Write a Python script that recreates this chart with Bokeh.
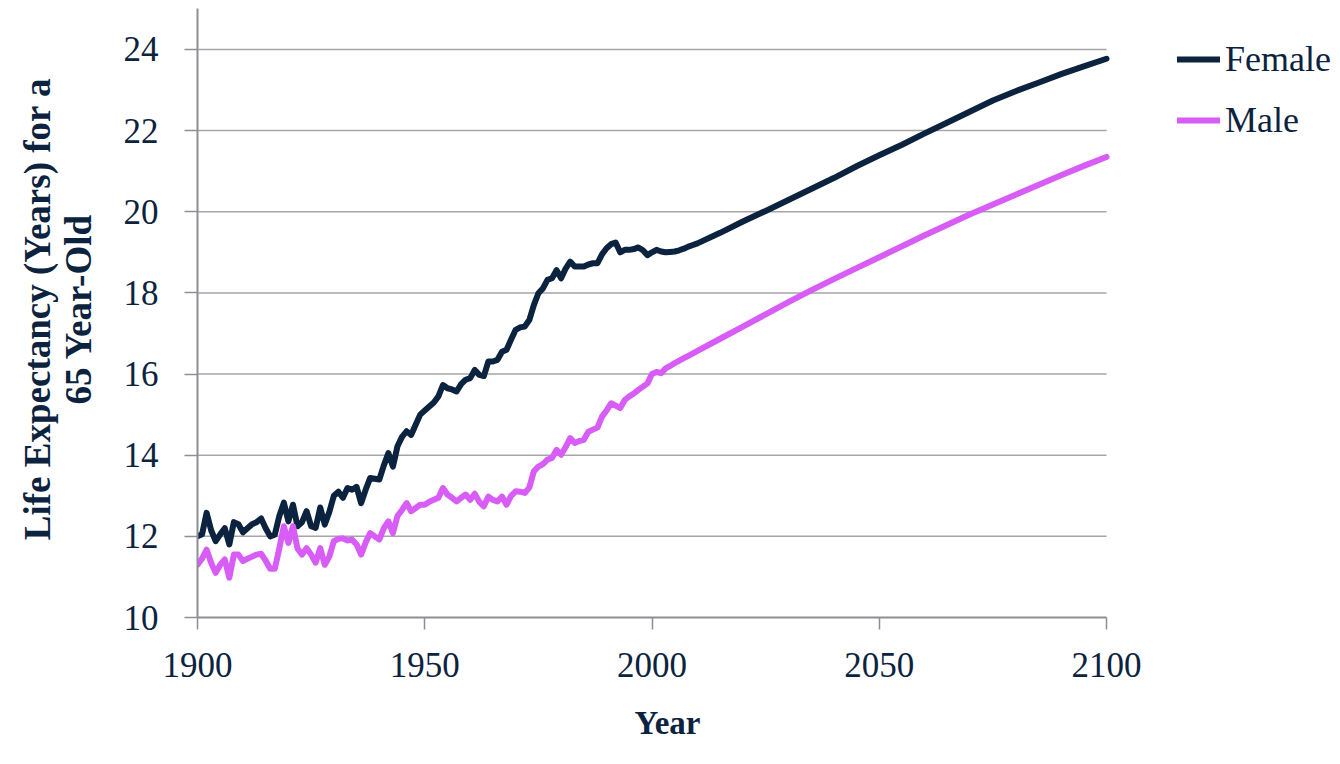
from bokeh.plotting import figure
from bokeh.models import Range1d, FixedTicker, Legend, LegendItem, Title
from bokeh.embed import file_html
from bokeh.resources import INLINE

# Period life expectancy at age 65: historical (annual) and projected
years_hist = list(range(1900, 2011))
female_hist = [
    12.0, 12.05, 12.58, 12.15, 11.88, 12.05, 12.2, 11.8, 12.35, 12.3,
    12.1, 12.2, 12.3, 12.35, 12.44, 12.2, 12.0, 12.04, 12.5, 12.83,
    12.37, 12.78, 12.25, 12.35, 12.62, 12.25, 12.21, 12.71, 12.29, 12.6,
    13.0, 13.1, 12.95, 13.19, 13.15, 13.22, 12.82, 13.15, 13.44, 13.42,
    13.4, 13.75, 14.05, 13.72, 14.22, 14.45, 14.59, 14.5, 14.75, 15.0,
    15.1, 15.2, 15.3, 15.45, 15.73, 15.65, 15.62, 15.57, 15.75, 15.86,
    15.9, 16.1, 15.98, 15.95, 16.31, 16.31, 16.35, 16.55, 16.6, 16.85,
    17.09, 17.15, 17.17, 17.33, 17.7, 17.99, 18.11, 18.32, 18.36, 18.56,
    18.36, 18.6, 18.77, 18.65, 18.65, 18.65, 18.7, 18.73, 18.73, 18.95,
    19.1, 19.2, 19.24, 19.0, 19.06, 19.06, 19.08, 19.12, 19.05, 18.93,
    19.0, 19.06, 19.02, 19.0, 19.01, 19.02, 19.05, 19.09, 19.14, 19.18,
    19.22,
]
male_hist = [
    11.3, 11.45, 11.67, 11.35, 11.1, 11.3, 11.43, 10.98, 11.55, 11.55,
    11.39, 11.45, 11.5, 11.55, 11.57, 11.4, 11.2, 11.2, 11.7, 12.25,
    11.84, 12.25, 11.7, 11.55, 11.71, 11.55, 11.35, 11.71, 11.3, 11.5,
    11.88, 11.94, 11.95, 11.9, 11.92, 11.8, 11.55, 11.85, 12.08, 12.0,
    11.92, 12.2, 12.37, 12.08, 12.5, 12.65, 12.82, 12.62, 12.7, 12.78,
    12.78, 12.85, 12.9, 12.95, 13.19, 13.03, 12.95, 12.86, 12.95, 13.03,
    12.9, 13.05, 12.85, 12.74, 12.98, 12.9, 12.86, 12.98, 12.78, 13.0,
    13.11, 13.1, 13.07, 13.2, 13.6, 13.72, 13.78, 13.89, 13.93, 14.13,
    14.01, 14.2, 14.42, 14.3, 14.35, 14.38, 14.58, 14.63, 14.68, 14.95,
    15.1, 15.28, 15.22, 15.16, 15.36, 15.45, 15.52, 15.61, 15.69, 15.77,
    16.0, 16.05, 16.02, 16.14, 16.2, 16.27, 16.33, 16.39, 16.45, 16.51,
    16.57,
]

years_proj = [2015, 2020, 2025, 2030, 2035, 2040, 2045, 2050, 2055, 2060,
              2065, 2070, 2075, 2080, 2085, 2090, 2095, 2100]
female_proj = [19.48, 19.76, 20.02, 20.29, 20.56, 20.83, 21.12, 21.39, 21.65, 21.93,
               22.2, 22.47, 22.74, 22.97, 23.18, 23.39, 23.58, 23.77]
male_proj = [16.87, 17.17, 17.47, 17.77, 18.06, 18.34, 18.61, 18.88, 19.15, 19.42,
             19.68, 19.94, 20.18, 20.42, 20.66, 20.9, 21.13, 21.35]

x_ticks = [1900, 1950, 2000, 2050, 2100]
y_ticks = [10, 12, 14, 16, 18, 20, 22, 24]
y_top = 25

years = years_hist + years_proj
female = female_hist + female_proj
male = male_hist + male_proj

NAVY = "#0c2340"
MAGENTA = "#d85cf6"
GRID = "#a6a6a6"
AXIS = "#8e8e96"
FONT = "Liberation Serif"

# The frame runs on past 2100 (and a little above 25) so the legend can sit
# inside it; the axis lines and gridlines stop at the data span.
LEFT, RIGHT_PX = 197, 1340
BOTTOM_BORDER = 146
FRAME_BOTTOM = 764 - BOTTOM_BORDER
PX_PER_YEAR = (1106 - 197) / (x_ticks[-1] - x_ticks[0])
PX_PER_UNIT = 40.643
x_end = x_ticks[0] + (RIGHT_PX - LEFT) / PX_PER_YEAR
y_end = y_ticks[0] + FRAME_BOTTOM / PX_PER_UNIT

p = figure(width=1340, height=764, output_backend="svg", toolbar_location=None,
           x_range=Range1d(x_ticks[0], x_end), y_range=Range1d(y_ticks[0], y_end),
           min_border_left=LEFT, min_border_right=0,
           min_border_top=0, min_border_bottom=BOTTOM_BORDER)
p.outline_line_color = None
p.background_fill_color = "white"
p.border_fill_color = "white"

# horizontal gridlines limited to the data span
grid_y = y_ticks[1:]
p.segment(x0=[x_ticks[0]] * len(grid_y), y0=grid_y,
          x1=[x_ticks[-1]] * len(grid_y), y1=grid_y,
          line_color=GRID, line_width=1.5)
p.xgrid.grid_line_color = None
p.ygrid.grid_line_color = None

r_f = p.line(years, female, line_color=NAVY, line_width=6, line_join="round", line_cap="round")
r_m = p.line(years, male, line_color=MAGENTA, line_width=6, line_join="round", line_cap="round")

# axes
for ax in (p.xaxis[0], p.yaxis[0]):
    ax.axis_line_color = AXIS
    ax.axis_line_width = 2
    ax.major_tick_line_color = AXIS
    ax.major_tick_line_width = 1.5
    ax.major_tick_in = 0
    ax.minor_tick_line_color = None
    ax.major_label_text_font = FONT
    ax.major_label_text_font_size = "35px"
    ax.major_label_text_color = NAVY
    ax.axis_label_text_font = FONT
    ax.axis_label_text_font_style = "bold"
    ax.axis_label_text_color = NAVY

p.xaxis.ticker = FixedTicker(ticks=x_ticks)
p.xaxis.bounds = (x_ticks[0], x_ticks[-1])
p.xaxis.major_tick_out = 12
p.xaxis.major_label_standoff = 23

# x-axis title, centred under the 1900-2100 span
x_title = Title(text="Year", align="left", offset=437, standoff=47,
                text_font=FONT, text_font_style="bold", text_font_size="33px",
                text_color=NAVY)
p.add_layout(x_title, "below")

p.yaxis.ticker = FixedTicker(ticks=y_ticks)
p.yaxis.bounds = (y_ticks[0], y_top)
p.yaxis.major_tick_out = 13
p.yaxis.major_label_standoff = 26
p.yaxis.axis_label = "Life Expectancy (Years) for a\n65 Year-Old"
p.yaxis.axis_label_text_font_size = "37px"
p.yaxis.axis_label_text_line_height = 1.0
p.yaxis.axis_label_text_align = "center"
p.yaxis.axis_label_standoff = 22

legend = Legend(items=[LegendItem(label="Female", renderers=[r_f]),
                       LegendItem(label="Male", renderers=[r_m])],
                location=(980, 476), padding=0, margin=0, spacing=19,
                glyph_width=43, glyph_height=42, label_height=42,
                label_standoff=5,
                label_text_font=FONT, label_text_font_size="36px",
                label_text_color=NAVY,
                border_line_alpha=0, background_fill_alpha=0)
p.add_layout(legend, "center")

open("out.html", "w").write(file_html(p, INLINE))
